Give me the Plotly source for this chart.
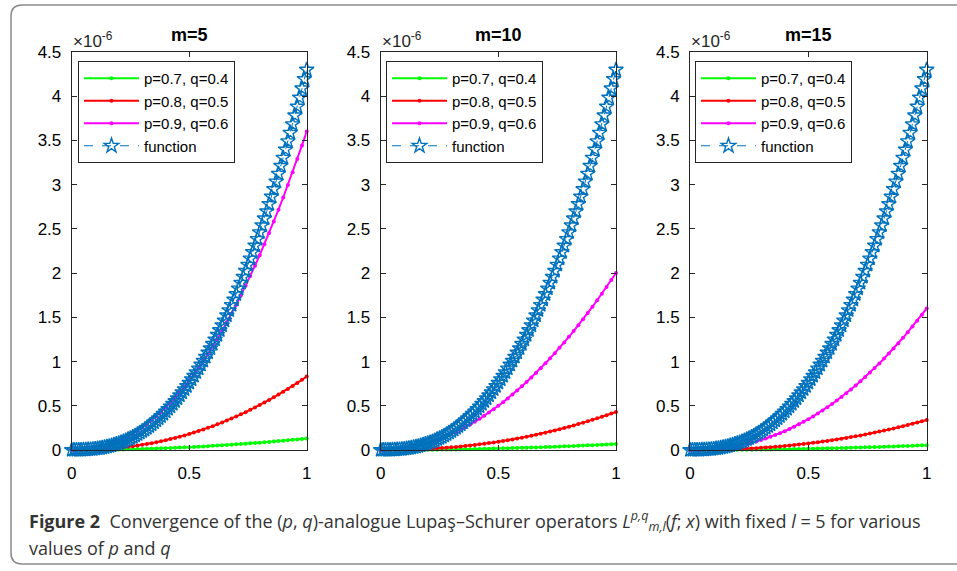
import plotly.graph_objects as go

# ---------------- data (values in units of 1e-6) ----------------
X_FINE = [i / 100 for i in range(101)]   # grid of the "function" curve
X_OP = [i / 50 for i in range(51)]       # grid of the operator curves

FUNCTION = [0, 0.00004, 0.00024, 0.00067, 0.00138, 0.0024, 0.0038, 0.0056, 0.0078, 0.0104,
            0.0136, 0.0173, 0.0214, 0.0262, 0.0315, 0.0375, 0.0440, 0.0512, 0.0591, 0.0677,
            0.0769, 0.0869, 0.0976, 0.1091, 0.1213, 0.1344, 0.1482, 0.1629, 0.1784, 0.1947,
            0.2120, 0.2301, 0.2491, 0.2690, 0.2898, 0.3116, 0.3344, 0.3581, 0.3827, 0.4084,
            0.4351, 0.4628, 0.4916, 0.5214, 0.5522, 0.5841, 0.6171, 0.6512, 0.6864, 0.7227,
            0.7601, 0.7987, 0.8384, 0.8793, 0.9214, 0.9647, 1.0091, 1.0548, 1.1016, 1.1497,
            1.1991, 1.2497, 1.3015, 1.3546, 1.4090, 1.4647, 1.5217, 1.5799, 1.6396, 1.7006,
            1.7629, 1.8264, 1.8914, 1.9578, 2.0255, 2.0946, 2.1653, 2.2372, 2.3106, 2.3852,
            2.4614, 2.5391, 2.6181, 2.6986, 2.7807, 2.8644, 2.9494, 3.0356, 3.1238, 3.2132,
            3.3043, 3.3967, 3.4910, 3.5867, 3.6836, 3.7826, 3.8828, 3.9848, 4.0880, 4.1934,
            4.3]

# m = 5
GREEN_M5 = [0, 0.00005, 0.0002, 0.0005, 0.0008, 0.0013, 0.0019, 0.0025, 0.0033, 0.0042,
            0.0052, 0.0063, 0.0075, 0.0088, 0.0102, 0.0117, 0.0133, 0.0150, 0.0168, 0.0188,
            0.0208, 0.0229, 0.0252, 0.0275, 0.0300, 0.0325, 0.0352, 0.0379, 0.0408, 0.0437,
            0.0468, 0.0500, 0.0532, 0.0566, 0.0601, 0.0637, 0.0674, 0.0712, 0.0751, 0.0791,
            0.0832, 0.0874, 0.0917, 0.0961, 0.1007, 0.1053, 0.1100, 0.1149, 0.1198, 0.1249,
            0.13]
RED_M5 = [0, 0.00015, 0.0007, 0.0017, 0.0032, 0.0052, 0.0078, 0.0110, 0.0147, 0.0191,
          0.0241, 0.0297, 0.0359, 0.0429, 0.0504, 0.0587, 0.0677, 0.0773, 0.0877, 0.0988,
          0.1106, 0.1231, 0.1364, 0.1504, 0.1651, 0.1806, 0.1969, 0.2140, 0.2318, 0.2504,
          0.2697, 0.2899, 0.3109, 0.3327, 0.3553, 0.3787, 0.4030, 0.4279, 0.4539, 0.4805,
          0.5080, 0.5364, 0.5656, 0.5956, 0.6265, 0.6582, 0.6909, 0.7243, 0.7587, 0.7939,
          0.83]
MAGENTA_M5 = [0, 0.0007, 0.0030, 0.0074, 0.0139, 0.0227, 0.0339, 0.0476, 0.0639, 0.0828,
              0.1044, 0.1287, 0.1559, 0.1859, 0.2188, 0.2547, 0.2935, 0.3354, 0.3804, 0.4284,
              0.4796, 0.5339, 0.5914, 0.6521, 0.7161, 0.7835, 0.8541, 0.9281, 1.0052, 1.0859,
              1.1699, 1.2575, 1.3485, 1.4432, 1.5411, 1.6425, 1.7477, 1.8560, 1.9685, 2.0840,
              2.2033, 2.3267, 2.4533, 2.5835, 2.7173, 2.8548, 2.9963, 3.1416, 3.2909, 3.4433,
              3.6]

# m = 10
GREEN_M10 = [0, 0.00003, 0.0001, 0.0002, 0.0004, 0.0007, 0.0010, 0.0013, 0.0017, 0.0022,
             0.0027, 0.0033, 0.0039, 0.0046, 0.0053, 0.0061, 0.0070, 0.0079, 0.0088, 0.0098,
             0.0109, 0.0120, 0.0132, 0.0144, 0.0157, 0.0170, 0.0184, 0.0198, 0.0213, 0.0229,
             0.0245, 0.0261, 0.0279, 0.0296, 0.0314, 0.0333, 0.0353, 0.0372, 0.0393, 0.0414,
             0.0435, 0.0457, 0.0480, 0.0503, 0.0527, 0.0551, 0.0576, 0.0601, 0.0627, 0.0653,
             0.068]
RED_M10 = [0, 0.0001, 0.0004, 0.0009, 0.0017, 0.0027, 0.0041, 0.0057, 0.0076, 0.0099,
           0.0125, 0.0154, 0.0186, 0.0222, 0.0261, 0.0304, 0.0351, 0.0401, 0.0454, 0.0512,
           0.0573, 0.0638, 0.0706, 0.0779, 0.0855, 0.0936, 0.1020, 0.1109, 0.1201, 0.1297,
           0.1397, 0.1502, 0.1611, 0.1724, 0.1841, 0.1962, 0.2088, 0.2217, 0.2351, 0.2489,
           0.2632, 0.2779, 0.2930, 0.3086, 0.3246, 0.3410, 0.3579, 0.3752, 0.3931, 0.4113,
           0.43]
MAGENTA_M10 = [0, 0.0008, 0.0032, 0.0072, 0.0128, 0.02, 0.0288, 0.0392, 0.0512, 0.0648,
               0.08, 0.0968, 0.1152, 0.1352, 0.1568, 0.18, 0.2048, 0.2312, 0.2592, 0.2888,
               0.32, 0.3528, 0.3872, 0.4232, 0.4608, 0.5, 0.5408, 0.5832, 0.6272, 0.6728,
               0.72, 0.7688, 0.8192, 0.8712, 0.9248, 0.98, 1.0368, 1.0952, 1.1552, 1.2168,
               1.28, 1.3448, 1.4112, 1.4792, 1.5488, 1.62, 1.6928, 1.7672, 1.8432, 1.9208,
               2.0]

# m = 15
GREEN_M15 = [0, 0.00002, 0.0001, 0.0002, 0.0004, 0.0006, 0.0008, 0.0011, 0.0014, 0.0018,
             0.0022, 0.0027, 0.0032, 0.0037, 0.0043, 0.0050, 0.0056, 0.0064, 0.0071, 0.0079,
             0.0088, 0.0097, 0.0106, 0.0116, 0.0127, 0.0138, 0.0149, 0.0160, 0.0172, 0.0185,
             0.0198, 0.0211, 0.0225, 0.0240, 0.0254, 0.0270, 0.0285, 0.0301, 0.0318, 0.0335,
             0.0352, 0.0370, 0.0388, 0.0407, 0.0426, 0.0446, 0.0466, 0.0486, 0.0507, 0.0528,
             0.055]
RED_M15 = [0, 0.0001, 0.0003, 0.0007, 0.0013, 0.0021, 0.0032, 0.0045, 0.0060, 0.0078,
           0.0099, 0.0122, 0.0147, 0.0176, 0.0207, 0.0241, 0.0277, 0.0317, 0.0359, 0.0405,
           0.0453, 0.0504, 0.0559, 0.0616, 0.0676, 0.0740, 0.0807, 0.0877, 0.0949, 0.1026,
           0.1105, 0.1188, 0.1274, 0.1363, 0.1456, 0.1551, 0.1651, 0.1753, 0.1859, 0.1968,
           0.2081, 0.2197, 0.2317, 0.2440, 0.2566, 0.2696, 0.2830, 0.2967, 0.3108, 0.3252,
           0.34]
MAGENTA_M15 = [0, 0.0003, 0.0013, 0.0033, 0.0062, 0.0101, 0.0151, 0.0212, 0.0284, 0.0368,
               0.0464, 0.0572, 0.0693, 0.0826, 0.0972, 0.1132, 0.1304, 0.1491, 0.1691, 0.1904,
               0.2131, 0.2373, 0.2629, 0.2898, 0.3183, 0.3482, 0.3796, 0.4125, 0.4468, 0.4826,
               0.5200, 0.5589, 0.5993, 0.6414, 0.6849, 0.7300, 0.7768, 0.8249, 0.8749, 0.9262,
               0.9793, 1.0341, 1.0904, 1.1482, 1.2077, 1.2688, 1.3319, 1.3962, 1.4626, 1.5303,
               1.6]

PANEL_TITLES = ["m=5", "m=10", "m=15"]
SERIES_NAMES = ["p=0.7, q=0.4", "p=0.8, q=0.5", "p=0.9, q=0.6", "function"]
X_TICKS = [0, 0.5, 1]
X_TICK_LABELS = ["0", "0.5", "1"]
Y_TICKS = [0, 0.5, 1, 1.5, 2, 2.5, 3, 3.5, 4, 4.5]
Y_TICK_LABELS = ["0", "0.5", "1", "1.5", "2", "2.5", "3", "3.5", "4", "4.5"]

PANELS = [
    (GREEN_M5, RED_M5, MAGENTA_M5),
    (GREEN_M10, RED_M10, MAGENTA_M10),
    (GREEN_M15, RED_M15, MAGENTA_M15),
]

# ---------------- styling / layout ----------------
W, H = 957, 571
COLORS = ["#00FF00", "#FF0000", "#FF00FF"]
FUNC_COLOR = "#0072BD"
AX_COLOR = "#262626"
TICK_FONT = dict(family="Liberation Sans, Arial, sans-serif", size=17, color="#000000")

X_DOMAINS_PX = [(71.7, 306.7), (380.7, 616.0), (690.0, 926.7)]
Y_TOP_PX, Y_BOT_PX = 52, 450
LEGEND_POS_PX = [(78, 61), (386, 61), (695, 61)]


def px_x(v):
    return v / W


def px_y(v):
    return 1 - v / H


fig = go.Figure()

for k, series in enumerate(PANELS):
    xa = "x" if k == 0 else f"x{k + 1}"
    ya = "y" if k == 0 else f"y{k + 1}"
    lg = "legend" if k == 0 else f"legend{k + 1}"
    for s, vals in enumerate(series):
        fig.add_trace(go.Scatter(
            x=X_OP, y=vals, mode="lines+markers", name=SERIES_NAMES[s],
            line=dict(color=COLORS[s], width=2),
            marker=dict(color=COLORS[s], size=4, symbol="circle"),
            xaxis=xa, yaxis=ya, legend=lg, cliponaxis=False,
        ))
    fig.add_trace(go.Scatter(
        x=X_FINE, y=FUNCTION, mode="lines+markers", name=SERIES_NAMES[3],
        line=dict(color=FUNC_COLOR, width=1, dash="dash"),
        marker=dict(symbol="star-open", size=11, color=FUNC_COLOR,
                    line=dict(width=1.4, color=FUNC_COLOR)),
        xaxis=xa, yaxis=ya, legend=lg, cliponaxis=False,
    ))

layout = dict(
    width=W, height=H, autosize=False,
    margin=dict(l=0, r=0, t=0, b=0, autoexpand=False),
    paper_bgcolor="white", plot_bgcolor="white",
    showlegend=True,
)

for k in range(3):
    xk = "xaxis" if k == 0 else f"xaxis{k + 1}"
    yk = "yaxis" if k == 0 else f"yaxis{k + 1}"
    ya = "y" if k == 0 else f"y{k + 1}"
    xa = "x" if k == 0 else f"x{k + 1}"
    x0, x1 = X_DOMAINS_PX[k]
    layout[xk] = dict(
        domain=[px_x(x0), px_x(x1)], anchor=ya, range=[0, 1],
        tickvals=X_TICKS, ticktext=X_TICK_LABELS,
        ticks="inside", ticklen=5, tickcolor=AX_COLOR, tickwidth=1,
        showline=True, linecolor=AX_COLOR, linewidth=1, mirror="ticks",
        showgrid=False, zeroline=False, tickfont=TICK_FONT,
        ticklabelstandoff=8, automargin=False,
    )
    layout[yk] = dict(
        domain=[px_y(Y_BOT_PX), px_y(Y_TOP_PX)], anchor=xa, range=[0, 4.5],
        tickvals=Y_TICKS, ticktext=Y_TICK_LABELS,
        ticks="inside", ticklen=5, tickcolor=AX_COLOR, tickwidth=1,
        showline=True, linecolor=AX_COLOR, linewidth=1, mirror="ticks",
        showgrid=False, zeroline=False, tickfont=TICK_FONT,
        ticklabelstandoff=6, automargin=False,
    )
    lgk = "legend" if k == 0 else f"legend{k + 1}"
    lx, ly = LEGEND_POS_PX[k]
    layout[lgk] = dict(
        x=px_x(lx), y=px_y(ly), xanchor="left", yanchor="top",
        xref="paper", yref="paper",
        bgcolor="white", bordercolor=AX_COLOR, borderwidth=1,
        font=dict(family="Liberation Sans, Arial, sans-serif", size=15, color="#000000"),
        itemwidth=55, tracegroupgap=0, traceorder="normal",
    )

fig.update_layout(**layout)

annotations = []
for k in range(3):
    x0, x1 = X_DOMAINS_PX[k]
    annotations.append(dict(
        text="<b>%s</b>" % PANEL_TITLES[k], x=px_x((x0 + x1) / 2), y=px_y(47),
        xref="paper", yref="paper", xanchor="center", yanchor="bottom",
        showarrow=False,
        font=dict(family="Liberation Sans, Arial, sans-serif", size=18, color="#000000"),
    ))
    annotations.append(dict(
        text="×10<sup>-6</sup>", x=px_x(x0 - 1), y=px_y(53),
        xref="paper", yref="paper", xanchor="left", yanchor="bottom",
        showarrow=False,
        font=dict(family="Liberation Sans, Arial, sans-serif", size=17, color="#262626"),
    ))

CAPTION_1 = ("<b>Figure 2</b>  Convergence of the (<i>p</i>, <i>q</i>)-analogue Lupaş–Schurer "
             "operators <i>L</i><sup><i>p,q</i></sup><sub><i>m,l</i></sub>(<i>f</i>; <i>x</i>) "
             "with fixed <i>l</i> = 5 for various")
CAPTION_2 = "values of <i>p</i> and <i>q</i>"
CAP_FONT = dict(family="Open Sans, Noto Sans, sans-serif", size=18, color="#333333")
annotations.append(dict(text=CAPTION_1, x=px_x(27), y=px_y(521), xref="paper", yref="paper",
                        xanchor="left", yanchor="middle", showarrow=False, font=CAP_FONT))
annotations.append(dict(text=CAPTION_2, x=px_x(27), y=px_y(548), xref="paper", yref="paper",
                        xanchor="left", yanchor="middle", showarrow=False, font=CAP_FONT))
fig.update_layout(annotations=annotations)

# rounded frame around the figure (runs off the right edge)
L, T, B, R = 11, 5, 564, 975
r = 11
path = (f"M {px_x(L)},{px_y(T + r)} Q {px_x(L)},{px_y(T)} {px_x(L + r)},{px_y(T)} "
        f"L {px_x(R)},{px_y(T)} L {px_x(R)},{px_y(B)} L {px_x(L + r)},{px_y(B)} "
        f"Q {px_x(L)},{px_y(B)} {px_x(L)},{px_y(B - r)} Z")
fig.add_shape(type="path", path=path, xref="paper", yref="paper",
              line=dict(color="#8a8a8a", width=1.5), layer="below")

fig.write_html("out.html",
               config={"displayModeBar": False},
               post_script="document.body.style.margin='0';document.body.style.overflow='hidden';")
